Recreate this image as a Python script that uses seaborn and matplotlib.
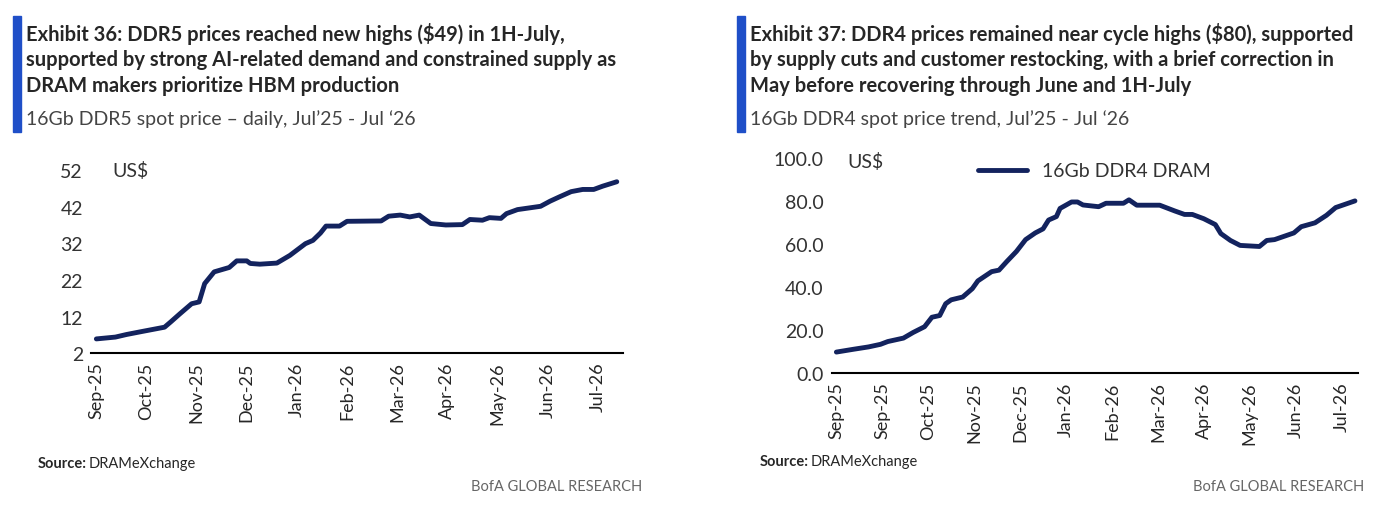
import matplotlib
matplotlib.use("Agg")
import matplotlib.pyplot as plt
import seaborn as sns
import pandas as pd


# DDR5 数据 (月份偏移, 价格)
ddr5_month = [0, 0.38, 0.6, 0.9, 1.36, 1.48, 1.67, 1.9, 2.05, 2.16, 2.35, 2.65, 2.8, 3.0, 3.07,
              3.26, 3.6, 3.86, 4.17, 4.32, 4.47, 4.58, 4.85, 5.0, 5.68, 5.83, 6.06, 6.25, 6.44,
              6.67, 6.97, 7.3, 7.45, 7.7, 7.84, 8.07, 8.18, 8.4, 8.86, 9.05, 9.24, 9.47, 9.7,
              9.92, 10.1, 10.38]
ddr5_price = [5.9, 6.4, 7.1, 7.9, 9.1, 10.5, 12.8, 15.5, 16.0, 21.0, 24.2, 25.4, 27.2, 27.2, 26.5,
              26.3, 26.6, 28.7, 31.9, 32.8, 34.8, 36.7, 36.7, 38.0, 38.1, 39.4, 39.7, 39.2, 39.7,
              37.4, 37.0, 37.1, 38.5, 38.3, 39.0, 38.8, 40.1, 41.2, 42.1, 43.5, 44.7, 46.1, 46.7,
              46.7, 47.6, 48.8]
ddr5_ticks = ["Sep-25", "Oct-25", "Nov-25", "Dec-25", "Jan-26", "Feb-26", "Mar-26", "Apr-26",
              "May-26", "Jun-26", "Jul-26"]

# DDR4 数据
ddr4_month = [0, 0.37, 0.7, 0.96, 1.12, 1.46, 1.67, 1.92, 2.08, 2.25, 2.38, 2.5, 2.75, 2.96, 3.08,
              3.38, 3.54, 3.71, 3.92, 4.12, 4.33, 4.5, 4.62, 4.79, 4.87, 5.12, 5.25, 5.37, 5.71,
              5.87, 6.25, 6.37, 6.54, 7.04, 7.37, 7.58, 7.75, 8.0, 8.25, 8.37, 8.58, 8.79, 9.21,
              9.37, 9.54, 9.96, 10.12, 10.42, 10.67, 10.87, 11.29]
ddr4_price = [9.7, 11.0, 12.1, 13.3, 14.6, 16.2, 18.8, 21.5, 25.9, 26.7, 32.2, 34.0, 35.3, 39.2, 42.8,
              47.1, 47.8, 51.8, 56.5, 62.0, 65.1, 67.0, 71.1, 72.7, 76.5, 79.5, 79.5, 78.1, 77.3,
              78.9, 78.9, 80.5, 78.0, 78.0, 75.3, 73.7, 73.7, 71.7, 69.0, 64.8, 61.6, 59.3, 58.8,
              61.6, 62.0, 65.1, 68.0, 69.8, 73.3, 76.9, 80.0]
ddr4_ticks = ["Sep-25", "Sep-25", "Oct-25", "Nov-25", "Dec-25", "Jan-26", "Feb-26", "Mar-26",
              "Apr-26", "May-26", "Jun-26", "Jul-26"]

NAVY = "#13235e"
BLUE = "#1f4fc8"
GREY = "#333333"


def styleAxis(ax, ticks, ylim, yticks, yfmt):
    ax.set_xticks(range(len(ticks)))
    ax.set_xticklabels(ticks, color=GREY)
    ax.set_yticks(yticks)
    ax.set_yticklabels([yfmt.format(v) for v in yticks], color=GREY)
    ax.set_ylim(*ylim)
    ax.set_xlabel("")
    ax.set_ylabel("")
    for s in ["top", "right", "left"]:
        ax.spines[s].set_visible(False)
    ax.spines["bottom"].set_position(("data", ylim[0]))
    ax.spines["bottom"].set_linewidth(1.5)
    ax.spines["bottom"].set_color("black")
    ax.tick_params(length=0, pad=6)
    ax.tick_params(axis="x", labelrotation=90, labelsize=13)
    ax.tick_params(axis="y", labelsize=14)


def drawHeader(fig, x, lines, sub):
    fig.patches.append(plt.Rectangle((x - 0.0045, 0.738), 0.006, 0.228, transform=fig.transFigure,
                                     color=BLUE, figure=fig))
    fig.text(x + 0.005, 0.955, "\n".join(lines), fontsize=14.5, fontweight="bold", va="top",
             linespacing=1.35)
    fig.text(x + 0.005, 0.783, sub, fontsize=14, color="#444444", va="top")


def drawSource(fig, x, y):
    fig.text(x, y, "Source:", fontsize=10.5, fontweight="bold")
    fig.text(x + 0.037, y, "DRAMeXchange", fontsize=10.5)


def main():
    sns.set_style("white")
    plt.rcParams["font.family"] = ["Lato", "DejaVu Sans"]
    fig = plt.figure(figsize=(13.84, 5.06), dpi=100)

    # 左图 DDR5
    ax1 = fig.add_axes([0.066, 0.300, 0.384, 0.362])
    df5 = pd.DataFrame({"month": ddr5_month, "price": ddr5_price})
    sns.lineplot(data=df5, x="month", y="price", ax=ax1, color=NAVY, linewidth=3.5)
    ax1.set_xlim(-0.1, 10.5)
    styleAxis(ax1, ddr5_ticks, (2, 52), [2, 12, 22, 32, 42, 52], "{:.0f}")
    ax1.text(0.04, 1.0, "US$", transform=ax1.transAxes, fontsize=14, color=GREY, va="center")
    drawHeader(fig, 0.014, ["Exhibit 36: DDR5 prices reached new highs ($49) in 1H-July,",
                            "supported by strong AI-related demand and constrained supply as",
                            "DRAM makers prioritize HBM production"],
               "16Gb DDR5 spot price \u2013 daily, Jul\u201925 - Jul \u201826")
    drawSource(fig, 0.027, 0.075)
    fig.text(0.464, 0.03, "BofA GLOBAL RESEARCH", fontsize=10.5, color="#666666", ha="right")

    # 右图 DDR4
    ax2 = fig.add_axes([0.601, 0.261, 0.380, 0.425])
    df4 = pd.DataFrame({"month": ddr4_month, "price": ddr4_price})
    sns.lineplot(data=df4, x="month", y="price", ax=ax2, color=NAVY, linewidth=3.5,
                 label="16Gb DDR4 DRAM")
    ax2.set_xlim(-0.1, 11.35)
    styleAxis(ax2, ddr4_ticks, (0, 100), [0, 20, 40, 60, 80, 100], "{:.1f}")
    ax2.text(0.03, 0.985, "US$", transform=ax2.transAxes, fontsize=14, color=GREY, va="center")
    ax2.legend(loc="upper center", bbox_to_anchor=(0.5, 1.06), frameon=False, fontsize=14,
               handlelength=2.5, labelcolor=GREY)
    drawHeader(fig, 0.537, ["Exhibit 37: DDR4 prices remained near cycle highs ($80), supported",
                            "by supply cuts and customer restocking, with a brief correction in",
                            "May before recovering through June and 1H-July"],
               "16Gb DDR4 spot price trend, Jul\u201925 - Jul \u201826")
    drawSource(fig, 0.549, 0.08)
    fig.text(0.986, 0.03, "BofA GLOBAL RESEARCH", fontsize=10.5, color="#666666", ha="right")

    fig.savefig("out.png", dpi=100)


if __name__ == '__main__':
    main()
